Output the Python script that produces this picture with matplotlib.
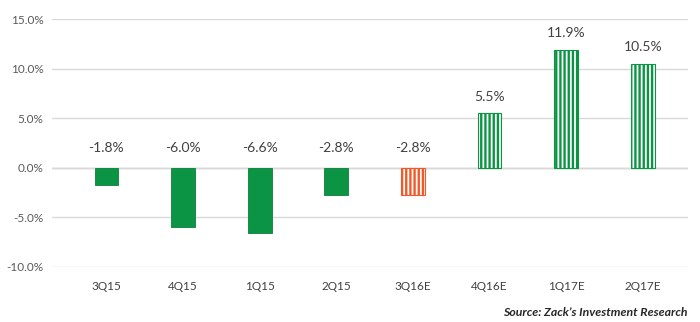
import matplotlib
matplotlib.use("Agg")
import matplotlib.pyplot as plt
import numpy as np

categories = ["3Q15", "4Q15", "1Q15", "2Q15", "3Q16E", "4Q16E", "1Q17E", "2Q17E"]
values = [-1.8, -6.0, -6.6, -2.8, -2.8, 5.5, 11.9, 10.5]
labels = ["-1.8%", "-6.0%", "-6.6%", "-2.8%", "-2.8%", "5.5%", "11.9%", "10.5%"]
kinds = ["actual", "actual", "actual", "actual", "estimate_neg", "estimate", "estimate", "estimate"]
yticks = [-10, -5, 0, 5, 10, 15]

GREEN = "#0B9444"
ORANGE = "#F05A28"

plt.rcParams['font.family'] = ['Lato', 'DejaVu Sans']
plt.rcParams['hatch.linewidth'] = 1.7

fig = plt.figure(figsize=(7, 3.22), dpi=100)
ax = fig.add_axes([52/700, 1-266.7/322, (688-52)/700, (266.7-19)/322])

x = np.arange(len(categories))
for xi, v, k in zip(x, values, kinds):
    if k == "actual":
        ax.bar(xi, v, width=0.31, color=GREEN, edgecolor="#0A7F3A", linewidth=0.6, zorder=3)
    else:
        col = ORANGE if k == "estimate_neg" else GREEN
        ax.bar(xi, v, width=0.31, facecolor="white", edgecolor=col, hatch="||||", linewidth=0.8, zorder=3)

for xi, v, lab in zip(x, values, labels):
    y = v + 1.65 if v > 0 else 1.95
    ax.text(xi, y, lab, ha="center", va="center", fontsize=10, color="#404040")

ax.set_xlim(-0.71, 7.59)
ax.set_ylim(-10, 15)
ax.set_yticks(yticks)
ax.set_yticklabels([f"{t:.1f}%" for t in yticks], fontsize=8.5, color="#595959")
ax.set_xticks(x)
ax.set_xticklabels(categories, fontsize=8.5, color="#404040")
ax.tick_params(length=0, pad=6)
ax.tick_params(axis='x', pad=10)
for s in ax.spines.values():
    s.set_visible(False)
ax.grid(axis='y', color="#D9D9D9", linewidth=1, zorder=0)
ax.axhline(0, color="#BFBFBF", linewidth=1, zorder=1)

fig.text(688/700, 1-312/322, "Source: Zack\u2019s Investment Research", ha="right", va="center",
         fontsize=8.8, fontweight="bold", fontstyle="italic", color="#262626")

fig.savefig("out.png", dpi=100)
